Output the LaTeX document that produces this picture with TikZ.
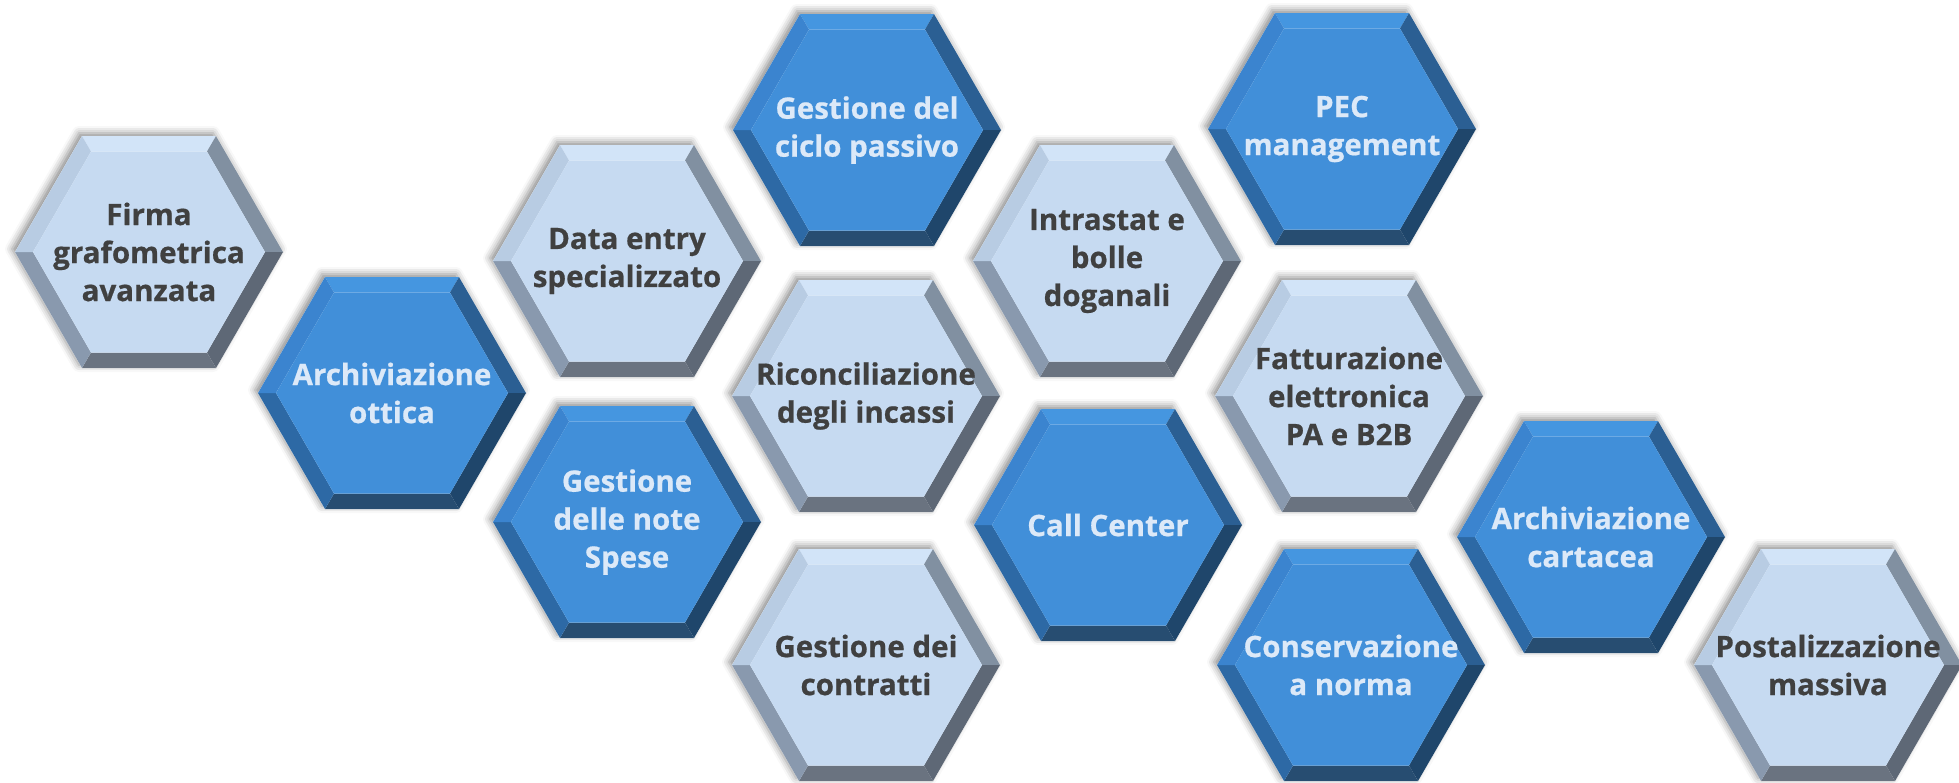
\documentclass[tikz,border=0pt]{standalone}
\usepackage{fontspec}
\setmainfont{Open Sans}[BoldFeatures={FakeBold=0.6}]
\usetikzlibrary{shadows.blur}
\definecolor{LTop}{HTML}{D2E4F8}
\definecolor{LUL}{HTML}{B8CCE3}
\definecolor{LLL}{HTML}{8999AE}
\definecolor{LBot}{HTML}{6A7380}
\definecolor{LLR}{HTML}{5E6876}
\definecolor{LUR}{HTML}{8190A1}
\definecolor{LFace}{HTML}{C6DAF1}
\definecolor{LText}{HTML}{404040}
\definecolor{DTop}{HTML}{4596E0}
\definecolor{DUL}{HTML}{3B84CF}
\definecolor{DLL}{HTML}{2D69A5}
\definecolor{DBot}{HTML}{274D71}
\definecolor{DLR}{HTML}{1F466B}
\definecolor{DUR}{HTML}{2B5F93}
\definecolor{DFace}{HTML}{418FD9}
\definecolor{DText}{HTML}{DCE9F8}
\tikzset{
  hexshadow/.style={fill=white, blur shadow={shadow xshift=-3pt, shadow yshift=3pt, shadow blur radius=7pt, shadow opacity=45}},
  hextext/.style={align=center, inner sep=0pt, font=\bfseries\fontsize{29.5}{38}\selectfont}
}
\newcommand{\HexTile}[5]{%
  \begin{scope}[shift={(#2,#3)}]
    \fill[hexshadow] (-67,-116) -- (67,-116) -- (134,0) -- (67,116) -- (-67,116) -- (-134,0) -- cycle;
    \fill[#4Top] (-67,-116) -- (67,-116) -- (58,-100.5) -- (-58,-100.5) -- cycle;
    \fill[#4UR] (67,-116) -- (134,0) -- (116,0) -- (58,-100.5) -- cycle;
    \fill[#4LR] (134,0) -- (67,116) -- (58,100.5) -- (116,0) -- cycle;
    \fill[#4Bot] (67,116) -- (-67,116) -- (-58,100.5) -- (58,100.5) -- cycle;
    \fill[#4LL] (-67,116) -- (-134,0) -- (-116,0) -- (-58,100.5) -- cycle;
    \fill[#4UL] (-134,0) -- (-67,-116) -- (-58,-100.5) -- (-116,0) -- cycle;
    \fill[#4Face] (-58,-100.5) -- (58,-100.5) -- (116,0) -- (58,100.5) -- (-58,100.5) -- (-116,0) -- cycle;
  \end{scope}
  \node[hextext, text=#4Text] (#1) at (#2,#3) {#5};
}
\begin{document}
\begin{tikzpicture}[x=1pt, y=-1pt]
\useasboundingbox (0,0) rectangle (1959,782);
\HexTile{firma}{149}{252}{L}{Firma\\grafometrica\\avanzata}
\HexTile{ciclo}{867}{130}{D}{Gestione del\\ciclo passivo}
\HexTile{pec}{1342}{129}{D}{PEC\\management}
\HexTile{dataentry}{627}{261}{L}{Data entry\\specializzato}
\HexTile{intrastat}{1107}{261}{L}{Intrastat e\\bolle\\doganali}
\HexTile{ottica}{392}{393}{D}{Archiviazione\\ottica}
\HexTile{riconc}{866}{396}{L}{Riconciliazione\\degli incassi}
\HexTile{fattura}{1349}{396}{L}{Fatturazione\\elettronica\\PA e B2B}
\HexTile{spese}{627}{522}{D}{Gestione\\delle note\\Spese}
\HexTile{callcenter}{1108}{525}{D}{Call Center}
\HexTile{cartacea}{1591}{537}{D}{Archiviazione\\cartacea}
\HexTile{contratti}{866}{665}{L}{Gestione dei\\contratti}
\HexTile{conserva}{1351}{665}{D}{Conservazione\\a norma}
\HexTile{postal}{1828}{665}{L}{Postalizzazione\\massiva}
\end{tikzpicture}
\end{document}
